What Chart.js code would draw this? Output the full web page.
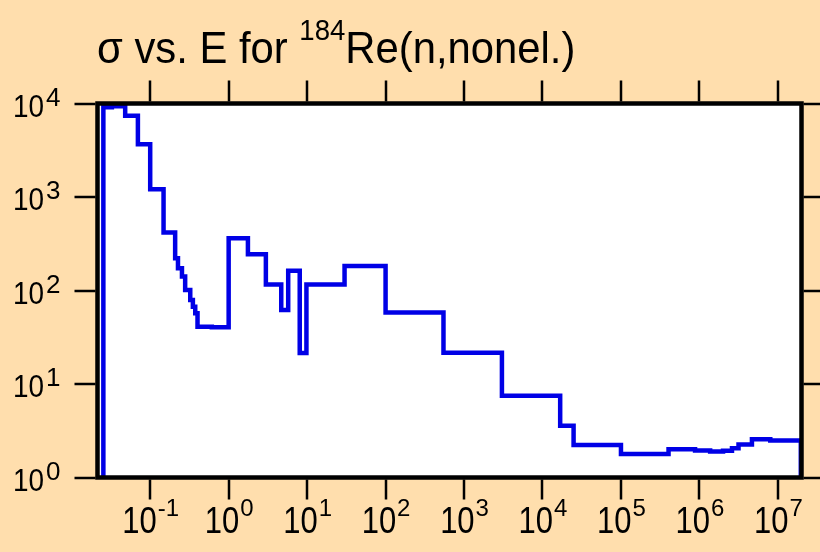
<!DOCTYPE html>
<html>
<head>
<meta charset="utf-8">
<script src="https://cdn.jsdelivr.net/npm/chart.js@4.4.1/dist/chart.umd.min.js"></script>
<style>
  html, body { margin: 0; padding: 0; background: #ffdead; }
  #wrap { width: 820px; height: 552px; }
</style>
</head>
<body>
<div id="wrap"><canvas id="xs" width="820" height="552"></canvas></div>
<script>
// group boundaries in eV, one more than the group cross sections
const energyEdges = [
  0.0253, 0.0325, 0.048, 0.0697, 0.1, 0.148, 0.208, 0.226, 0.254, 0.279,
  0.324, 0.35, 0.375, 0.401, 0.61, 1.0, 1.76, 2.98, 4.68, 5.74,
  8.05, 9.8, 30, 100, 547, 3040, 16800, 24900, 1e5, 4.04e5,
  8.8e5, 1.37e6, 2.0e6, 2.6e6, 3.15e6, 4.67e6, 8.0e6, 1.96e7
];
// nonelastic cross section per group, barns
const sigma = [
  9100, 9350, 7400, 3660, 1210, 417, 221, 173, 141, 101,
  79, 67, 57, 41, 40.5, 361, 244, 116, 62, 163,
  21.5, 116, 183, 58, 21.6, 7.5, 3.58, 2.23, 1.78, 2.0,
  1.95, 1.9, 1.93, 2.05, 2.25, 2.56, 2.48
];
const xTickExps = [-1, 0, 1, 2, 3, 4, 5, 6, 7];
const yTickExps = [0, 1, 2, 3, 4];
const titleMain = 'σ vs. E for ';
const titleSup = '184';
const titleTail = 'Re(n,nonel.)';

const FONT = "'Liberation Sans', Arial, Helvetica, sans-serif";

// closed histogram outline: rise from below the axis, walk the groups, drop back down
function histogramPoints() {
  const floor = 0.2;
  const last = energyEdges.length - 1;
  const pts = [{ x: energyEdges[0], y: floor }];
  sigma.forEach((s, i) => pts.push({ x: energyEdges[i], y: s }));
  pts.push({ x: energyEdges[last], y: sigma[sigma.length - 1] });
  pts.push({ x: energyEdges[last], y: floor });
  return pts;
}

// "10" with a raised exponent; sx squeezes the glyphs horizontally
function powLabel(ctx, exp, x, y, o) {
  const base = '10', sup = String(exp);
  ctx.save();
  ctx.font = o.base + 'px ' + FONT;
  const wb = ctx.measureText(base).width * o.sx;
  ctx.font = o.sup + 'px ' + FONT;
  const ws = ctx.measureText(sup).width;
  const x0 = o.align === 'center' ? x - (wb + ws) / 2 : x;
  ctx.textAlign = 'left';
  ctx.textBaseline = 'alphabetic';
  ctx.translate(x0, y);
  ctx.scale(o.sx, 1);
  ctx.font = o.base + 'px ' + FONT;
  ctx.fillText(base, 0, 0);
  ctx.setTransform(1, 0, 0, 1, 0, 0);
  ctx.font = o.sup + 'px ' + FONT;
  ctx.fillText(sup, x0 + wb + o.gap, y - o.rise);
  ctx.restore();
}

// text run squeezed horizontally, returns its advance
function squeezedText(ctx, str, x, y, size, sx) {
  ctx.save();
  ctx.font = size + 'px ' + FONT;
  const w = ctx.measureText(str).width * sx;
  ctx.translate(x, y);
  ctx.scale(sx, 1);
  ctx.fillText(str, 0, 0);
  ctx.restore();
  return w;
}

const framePlugin = {
  id: 'frame',
  beforeDatasetsDraw(chart) {
    const { ctx, chartArea: a } = chart;
    ctx.save();
    ctx.fillStyle = '#ffffff';
    ctx.fillRect(a.left, a.top, a.right - a.left, a.bottom - a.top);
    ctx.restore();
  },
  afterDraw(chart) {
    const { ctx, chartArea: a, scales } = chart;
    ctx.save();
    ctx.strokeStyle = '#000000';
    ctx.lineWidth = 4.5;
    ctx.strokeRect(a.left, a.top, a.right - a.left, a.bottom - a.top);

    // outward ticks on all four sides
    ctx.lineWidth = 2.5;
    ctx.beginPath();
    xTickExps.forEach(e => {
      const px = Math.round(scales.x.getPixelForValue(Math.pow(10, e)));
      ctx.moveTo(px, a.top - 2); ctx.lineTo(px, a.top - 23);
      ctx.moveTo(px, a.bottom + 2); ctx.lineTo(px, a.bottom + 22);
    });
    yTickExps.forEach(e => {
      const py = Math.round(scales.y.getPixelForValue(Math.pow(10, e)));
      ctx.moveTo(a.left - 2, py); ctx.lineTo(a.left - 23, py);
      ctx.moveTo(a.right + 2, py); ctx.lineTo(a.right + 23, py);
    });
    ctx.stroke();

    ctx.fillStyle = '#000000';
    ctx.textAlign = 'left';
    ctx.textBaseline = 'alphabetic';
    xTickExps.forEach(e => {
      const px = scales.x.getPixelForValue(Math.pow(10, e));
      powLabel(ctx, e, px, 533, { base: 36, sup: 24, sx: 0.86, rise: 17, gap: 1, align: 'center' });
    });
    yTickExps.forEach(e => {
      const py = scales.y.getPixelForValue(Math.pow(10, e));
      powLabel(ctx, e, 13, py + 13, { base: 31, sup: 26, sx: 0.9, rise: 11, gap: 2, align: 'left' });
    });

    // title with superscripted mass number
    let tx = 97;
    tx += squeezedText(ctx, titleMain, tx, 63, 44, 0.95);
    tx += squeezedText(ctx, titleSup, tx, 40, 29, 0.95);
    squeezedText(ctx, titleTail, tx, 63, 44, 0.95);
    ctx.restore();
  }
};

new Chart(document.getElementById('xs'), {
  type: 'line',
  data: {
    datasets: [{
      data: histogramPoints(),
      stepped: 'before',
      borderColor: '#0000e6',
      borderWidth: 4.5,
      borderJoinStyle: 'miter',
      borderCapStyle: 'butt',
      pointRadius: 0,
      fill: false,
      clip: 0
    }]
  },
  options: {
    responsive: false,
    devicePixelRatio: 1,
    animation: false,
    layout: { padding: { left: 97.5, right: 18.5, top: 103.5, bottom: 74.5 } },
    plugins: { legend: { display: false }, tooltip: { enabled: false } },
    scales: {
      x: { type: 'logarithmic', min: 0.0213, max: 2e7, display: false },
      y: { type: 'logarithmic', min: 1, max: 1e4, display: false }
    }
  },
  plugins: [framePlugin]
});
</script>
</body>
</html>
